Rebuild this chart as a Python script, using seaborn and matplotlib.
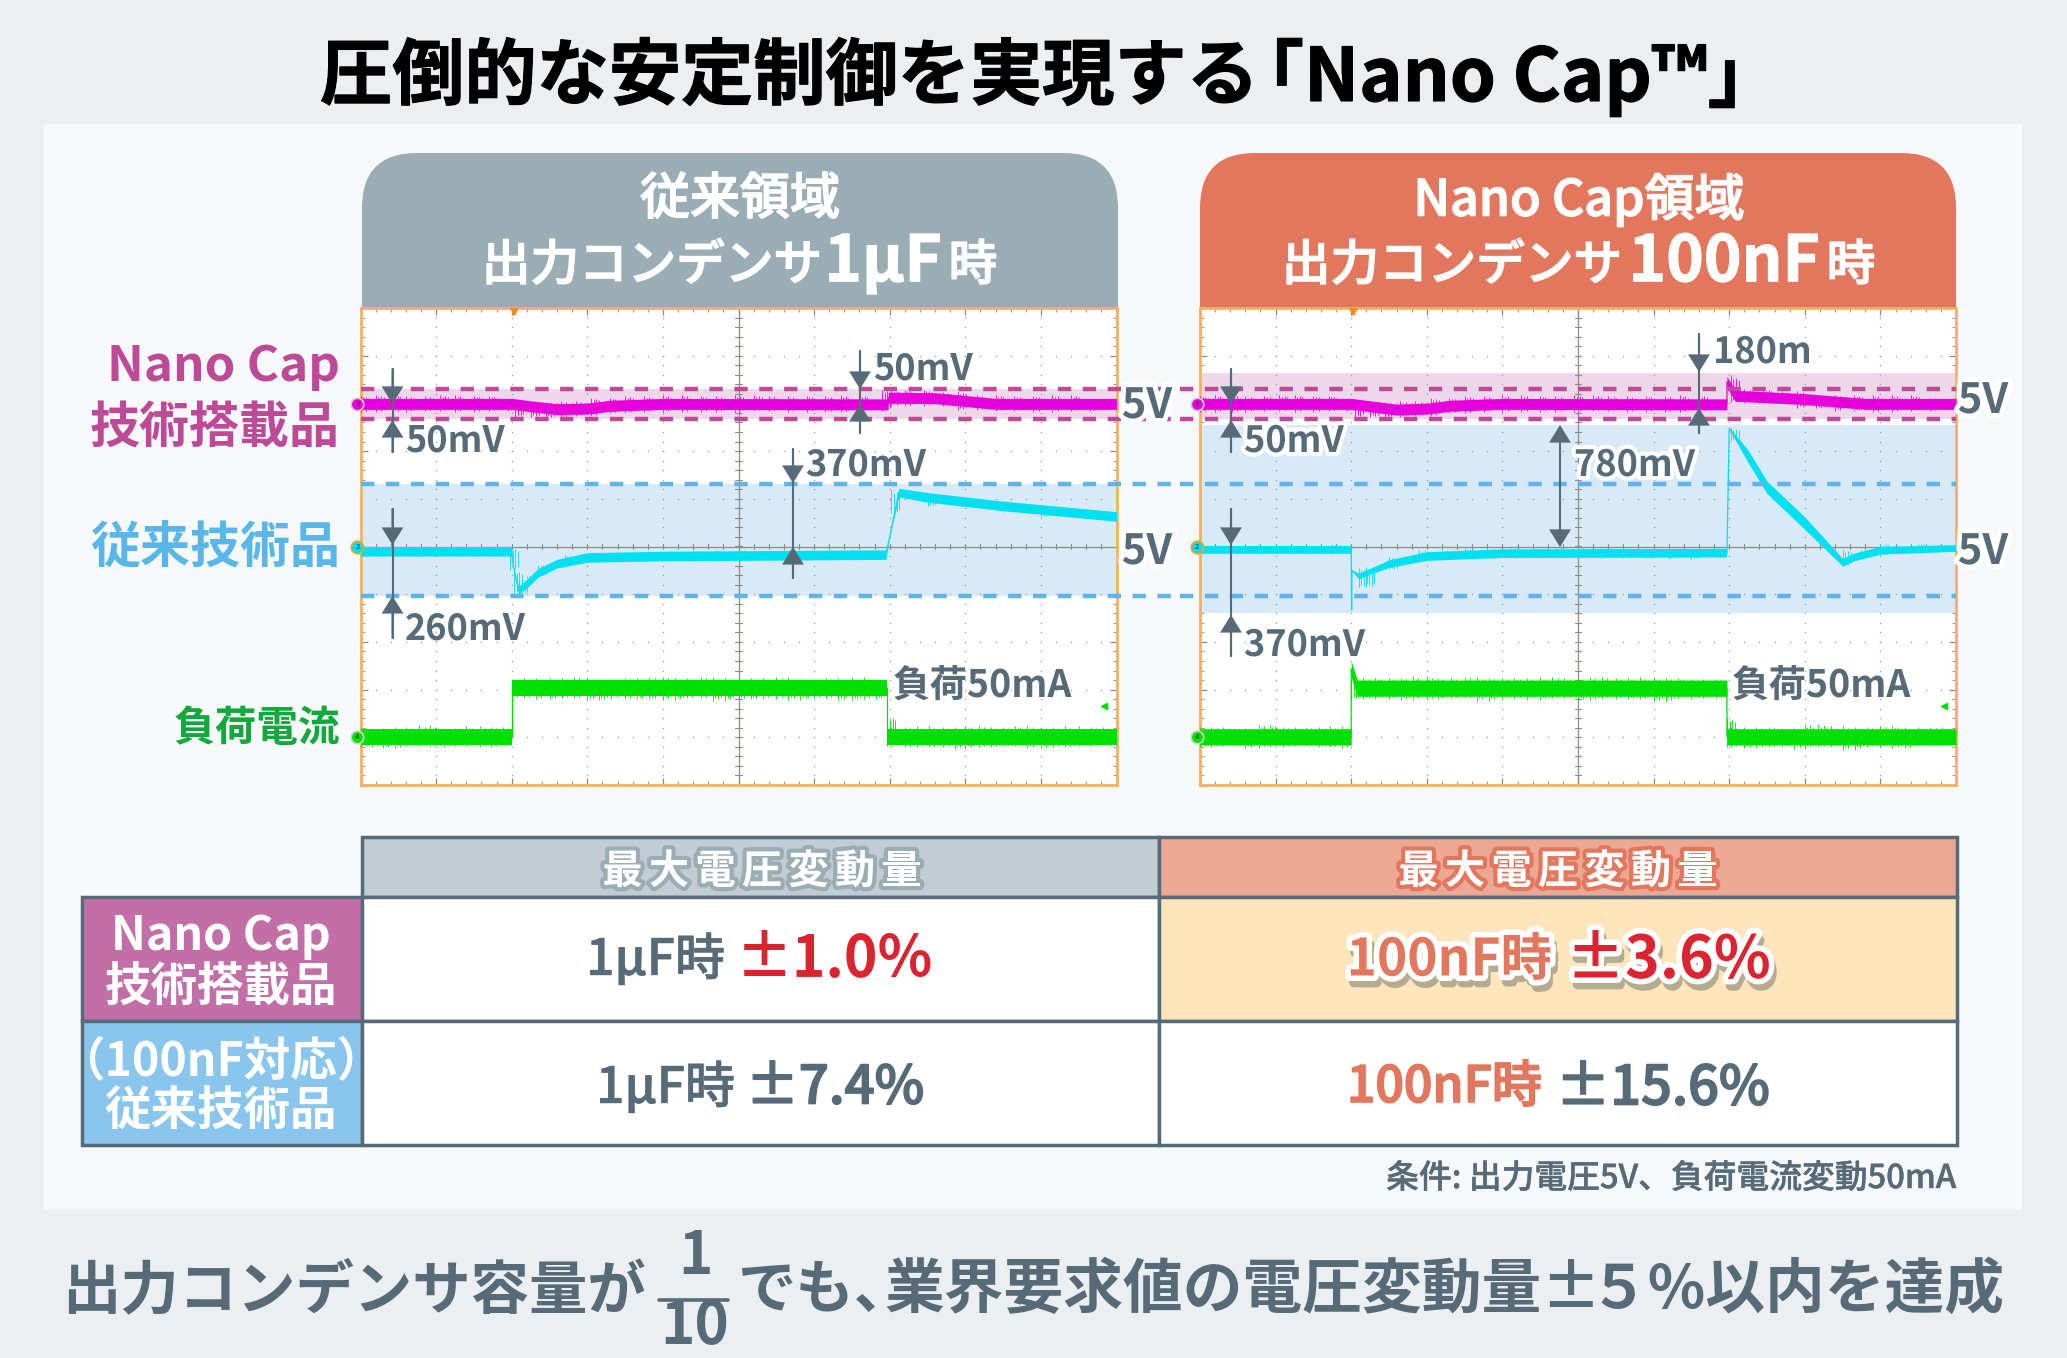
"""
Nano Cap comparison: two oscilloscope captures and a table of maximum voltage change.
"""

import numpy as np
import matplotlib.pyplot as plt
import matplotlib.patheffects as pe
from matplotlib.patches import Rectangle, FancyBboxPatch, FancyArrowPatch
import seaborn as sns

sns.set_theme(style="white")
plt.rcParams["font.family"] = ["Noto Sans CJK JP", "DejaVu Sans"]
plt.rcParams["axes.unicode_minus"] = False

W, H = 2067, 1358

SLATE = "#566B77"
ORANGE = "#E2775D"
RED = "#DC2430"
MAGENTA = "#E800DC"
CYAN = "#00E0F0"
GREEN = "#00E000"
MAG_DASH = "#BC4A96"
BLUE_DASH = "#5FB3E8"

# Traces are in scope divisions: x 0..10, y -5..5
# Limit lines and shaded regions
MAG_LIMITS = [3.30, 2.68]
BLUE_LIMITS = [1.31, -1.035]
MAG_SHADE_L = [3.30, 2.68]
BLUE_SHADE_L = [1.31, -1.035]
MAG_SHADE_R = [3.64, 2.68]
BLUE_SHADE_R = [2.55, -1.40]

# Magenta: output voltage of the Nano Cap part
MAG_L_T = [0, 2.0, 2.3, 2.6, 3.0, 3.3, 4.0, 6.98, 6.98, 7.6, 8.0, 8.4, 10]
MAG_L_MID = [2.99, 2.99, 2.93, 2.88, 2.89, 2.95, 2.99, 2.98, 3.12, 3.11, 3.05, 2.99, 2.99]
MAG_R_T = [0, 2.0, 2.3, 2.6, 3.0, 3.3, 4.0, 6.97, 6.97, 7.08, 8.0, 8.8, 10]
MAG_R_MID = [2.99, 2.99, 2.93, 2.87, 2.89, 2.95, 2.99, 2.98, 3.45, 3.16, 3.09, 2.99, 2.99]
MAG_ZIG_T = [0.0, 0.2, 0.42, 0.6, 0.85, 1.05, 1.25, 1.5, 1.7, 1.95,
             2.05, 2.25, 2.45, 2.65, 2.85, 3.05, 3.3, 3.5, 3.75, 4.0,
             4.25, 4.5, 4.7, 4.95, 5.2, 5.4, 5.65, 5.9, 6.15, 6.35,
             6.6, 6.9, 7.02, 7.2, 7.45, 7.7, 7.9, 8.15, 8.4, 8.65,
             8.9, 9.15, 9.4, 9.65, 10.0]
MAG_L_ZIG = [3.16, 2.83, 3.18, 2.82, 3.15, 2.84, 3.17, 2.83, 3.16, 2.84,
             3.10, 2.72, 3.02, 2.70, 3.04, 2.74, 3.12, 2.80, 3.16, 2.82,
             3.17, 2.83, 3.16, 2.82, 3.18, 2.84, 3.15, 2.83, 3.16, 2.82,
             3.17, 2.85, 3.28, 2.95, 3.29, 2.94, 3.24, 2.86, 3.17, 2.84,
             3.16, 2.83, 3.17, 2.84, 3.10]
MAG_R_ZIG = [3.16, 2.83, 3.17, 2.82, 3.16, 2.84, 3.18, 2.83, 3.16, 2.84,
             3.10, 2.72, 3.02, 2.71, 3.04, 2.74, 3.12, 2.80, 3.16, 2.82,
             3.17, 2.83, 3.16, 2.82, 3.18, 2.84, 3.15, 2.83, 3.16, 2.82,
             3.17, 2.85, 3.57, 3.02, 3.30, 3.00, 3.25, 2.90, 3.18, 2.85,
             3.17, 2.83, 3.17, 2.84, 3.12]

# Cyan: output voltage of the conventional part
CYAN_L_T = [0, 2.0, 2.02, 2.09, 2.2, 2.35, 2.6, 3.0, 4.0, 6.95, 7.0, 7.12, 7.5, 8.5, 10]
CYAN_L_MID = [-0.10, -0.10, -0.40, -0.92, -0.78, -0.55, -0.36, -0.23, -0.20, -0.17, 0.20, 1.13, 1.03, 0.85, 0.63]
CYAN_L_HW = [0.10, 0.10, 0.01, 0.08, 0.09, 0.09, 0.09, 0.10, 0.10, 0.10, 0.01, 0.09, 0.10, 0.10, 0.10]
CYAN_R_T = [0, 2.0, 2.005, 2.01, 2.1, 2.25, 2.5, 3.0, 4.0, 6.96, 6.97, 7.0, 7.25, 7.5, 8.0, 8.5, 8.65, 9.0, 10]
CYAN_R_MID = [-0.06, -0.06, -1.33, -0.50, -0.62, -0.52, -0.36, -0.20, -0.14, -0.13, -0.13, 2.48, 1.89, 1.24, 0.49, -0.33, -0.22, -0.08, -0.03]
CYAN_R_HW = [0.08, 0.08, 0.01, 0.01, 0.06, 0.06, 0.08, 0.09, 0.09, 0.09, 0.01, 0.02, 0.13, 0.13, 0.13, 0.08, 0.08, 0.08, 0.07]
CYAN_ZIG_T = [0, 0.25, 0.5, 0.75, 1.0, 1.25, 1.5, 1.75, 1.98, 2.03,
              2.1, 2.2, 2.35, 2.5, 2.7, 2.9, 3.2, 3.5, 3.8, 4.1,
              4.4, 4.7, 5.0, 5.3, 5.6, 5.9, 6.2, 6.5, 6.8, 6.97,
              7.02, 7.12, 7.5, 8.0, 8.5, 8.75, 9.0, 9.5, 10.0]
CYAN_L_ZIG = [-0.01, -0.19, 0.0, -0.20, -0.02, -0.18, 0.0, -0.19, -0.02, -0.50,
              -1.00, -0.68, -0.62, -0.38, -0.40, -0.18, -0.30, -0.11, -0.29, -0.10,
              -0.28, -0.08, -0.28, -0.07, -0.27, -0.07, -0.28, -0.06, -0.27, -0.10,
              0.70, 1.18, 1.11, 0.85, 0.95, 0.72, 0.86, 0.62, 0.66]
CYAN_R_ZIG = [0.02, -0.14, 0.03, -0.15, 0.03, -0.13, 0.02, -0.15, 0.05, -1.33,
              -0.45, -0.85, -0.42, -0.48, -0.22, -0.30, -0.07, -0.26, -0.03, -0.25,
              -0.02, -0.23, 0.0, -0.24, -0.02, -0.25, -0.03, -0.26, -0.03, -0.05,
              2.48, 2.22, 1.24, 0.49, -0.40, -0.07, -0.17, 0.06, -0.06]

# Green: load current step
GREEN_L_T = [0, 2.0, 2.0, 6.97, 6.97, 10]
GREEN_L_MID = [-3.99, -3.99, -2.97, -2.97, -3.99, -3.99]
GREEN_R_T = [0, 2.0, 2.0, 2.08, 6.97, 6.97, 10]
GREEN_R_MID = [-3.99, -3.99, -2.57, -2.97, -2.97, -3.99, -3.99]
GREEN_ZIG_T = [0, 0.15, 0.3, 0.45, 0.6, 0.78, 0.92, 1.1, 1.25, 1.4, 1.58, 1.72, 1.88, 2.0,
               2.0, 2.16, 2.32, 2.5, 2.66, 2.82, 3.0, 3.15, 3.32, 3.5,
               3.66, 3.82, 4.0, 4.16, 4.32, 4.5, 4.66, 4.82, 5.0, 5.16,
               5.32, 5.5, 5.66, 5.82, 6.0, 6.16, 6.32, 6.5, 6.66, 6.82, 6.97,
               6.97, 7.02, 7.2, 7.36, 7.52, 7.7, 7.86, 8.0, 8.18, 8.34,
               8.5, 8.66, 8.82, 9.0, 9.16, 9.32, 9.5, 9.66, 9.82, 10.0]
GREEN_L_ZIG = [-3.78, -4.20, -3.80, -4.22, -3.79, -4.19, -3.75, -4.21, -3.80, -4.18, -3.77, -4.20, -3.79, -4.15,
               -2.78, -3.17, -2.75, -3.20, -2.76, -3.18, -2.74, -3.22, -2.77, -3.19,
               -2.75, -3.20, -2.73, -3.21, -2.76, -3.18, -2.74, -3.23, -2.75, -3.20,
               -2.76, -3.19, -2.74, -3.21, -2.77, -3.18, -2.75, -3.22, -2.74, -3.20, -2.80,
               -3.55, -4.18, -3.78, -4.21, -3.77, -4.20, -3.79, -4.24, -3.76, -4.20,
               -3.78, -4.19, -3.76, -4.23, -3.78, -4.20, -3.77, -4.19, -3.79, -4.15]
GREEN_R_ZIG = [-3.79, -4.21, -3.78, -4.19, -3.80, -4.22, -3.74, -4.20, -3.79, -4.19, -3.78, -4.21, -3.77, -4.22,
               -2.80, -3.20, -2.76, -3.19, -2.75, -3.21, -2.72, -3.20, -2.76, -3.18,
               -2.74, -3.23, -2.75, -3.19, -2.76, -3.21, -2.74, -3.18, -2.75, -3.22,
               -2.73, -3.19, -2.76, -3.20, -2.74, -3.24, -2.75, -3.19, -2.77, -3.18, -2.78,
               -3.60, -4.20, -3.79, -4.22, -3.78, -4.20, -3.80, -4.24, -3.72, -4.21,
               -3.77, -4.26, -3.78, -4.20, -3.76, -4.23, -3.79, -4.19, -3.78, -4.18]

# Table contents
COL_HEADER = "最大電圧変動量"
ROW_LABELS = [("Nano Cap", "技術搭載品"), ("（100nF対応）", "従来技術品")]
CAP_LABELS = ["1μF時", "100nF時"]
RESULTS = [["±1.0%", "±3.6%"], ["±7.4%", "±15.6%"]]


def label(ax, x, y, s, size, color=SLATE, weight="bold", ha="center", stroke=None, sw=6, thick=0):
    # only Regular and Bold exist, so "medium" is Regular with a hairline of its own colour
    txt = ax.text(x, y - 2.5, s, fontsize=size, color=color, fontweight=weight, ha=ha, va="center_baseline")
    effects = []
    if stroke:
        effects.append(pe.withStroke(linewidth=sw, foreground=stroke))
    if weight == "medium" and not thick:
        thick = 0.7
    if thick:
        effects.append(pe.withStroke(linewidth=thick, foreground=color))
    if effects:
        txt.set_path_effects(effects)
    return txt


def px_axes(x0, y0, x1, y1, zorder):
    ax = fig.add_axes([x0 / W, 1 - y1 / H, (x1 - x0) / W, (y1 - y0) / H], zorder=zorder)
    return ax


def draw_trace(ax, t, mid, hw, zig_t, zig_y, color):
    t = np.asarray(t, dtype=float)
    mid = np.asarray(mid, dtype=float)
    ax.fill_between(t, mid - hw, mid + hw, color=color, lw=0, zorder=4)
    sns.lineplot(x=t, y=mid, color=color, lw=0.9, estimator=None, sort=False, ax=ax, zorder=4)
    # noise hairs between neighbouring read-off extremes
    zt = np.asarray(zig_t, dtype=float)
    zy = np.asarray(zig_y, dtype=float)
    keep = np.abs(zy[1:] - zy[:-1]) < 0.7
    centre = (zy[:-1] + zy[1:]) / 2
    half = (zy[1:] - zy[:-1]) / 2
    for shift, scale in [(0, 1.0), (0.035, 0.78), (0.07, 0.88), (0.105, 0.72)]:
        ax.vlines(zt[:-1][keep] + shift, (centre - half * scale)[keep], (centre + half * scale)[keep],
                  color=color, lw=0.6, zorder=4)


def draw_scope(ax, traces, mag_shade, blue_shade, dash_x):
    ax.set_facecolor("white")
    ax.axhspan(mag_shade[1], mag_shade[0], color="#ECD8E8", lw=0, zorder=1)
    ax.axhspan(blue_shade[1], blue_shade[0], color="#D8E9F7", lw=0, zorder=1)

    # graticule
    gx, gy = np.meshgrid(np.arange(0, 10.1, 1), np.arange(-5, 5.1, 0.2))
    ax.scatter(gx.ravel(), gy.ravel(), s=1.2, color="#A5A5A0", lw=0, zorder=2)
    gx, gy = np.meshgrid(np.arange(0, 10.1, 0.2), np.arange(-5, 5.1, 1))
    ax.scatter(gx.ravel(), gy.ravel(), s=1.2, color="#A5A5A0", lw=0, zorder=2)
    ax.axvline(5, color="#8C8C80", lw=0.9, zorder=2)
    ax.axhline(0, color="#8C8C80", lw=0.9, zorder=2)
    for tick in np.arange(0, 10.1, 0.2):
        ax.plot([tick, tick], [-0.06, 0.06], color="#8C8C80", lw=0.8, zorder=2)
    for tick in np.arange(-5, 5.1, 0.2):
        ax.plot([4.96, 5.04], [tick, tick], color="#8C8C80", lw=0.8, zorder=2)

    for t, mid, hw, zt, zy, col in traces:
        draw_trace(ax, t, mid, hw, zt, zy, col)

    for y, col in zip(MAG_LIMITS + BLUE_LIMITS, [MAG_DASH] * 2 + [BLUE_DASH] * 2):
        ax.plot(dash_x, [y, y], color=col, lw=3.2, dashes=(3.0, 2.6), clip_on=False, zorder=5)

    # trigger and channel markers
    ax.plot([2.03], [4.93], marker="v", ms=6, color="#F58A1F", lw=0, zorder=6)
    ax.plot([9.84], [-3.34], marker="<", ms=4, color=GREEN, lw=0, zorder=6)
    for y, col, edge, num in [(2.99, MAGENTA, "#D0D0D0", "3"), (0, CYAN, "#F2A51F", "2"), (-3.99, GREEN, "#D0D0D0", "4")]:
        ax.plot([-0.04], [y], marker="o", ms=9, mfc=col, mec=edge, mew=1.2, lw=0, clip_on=False, zorder=7)
        ax.text(-0.04, y, num, fontsize=5.5, color="#333333", ha="center", va="center", zorder=8)

    ax.set_xlim(0, 10)
    ax.set_ylim(-5, 5)
    ax.set_xlabel("")
    ax.set_ylabel("")
    ax.set_xticks(np.arange(0, 10.1, 1))
    ax.set_yticks(np.arange(-5, 5.1, 1))
    ax.set_xticks(np.arange(0, 10.1, 0.2), minor=True)
    ax.set_yticks(np.arange(-5, 5.1, 0.2), minor=True)
    ax.tick_params(which="major", direction="in", length=5, width=0.9, color="#8C8C80",
                   top=True, right=True, bottom=True, left=True,
                   labelbottom=False, labelleft=False)
    ax.tick_params(which="minor", direction="in", length=3, width=0.8, color="#9C9C92",
                   top=True, right=True, bottom=True, left=True)
    for spine in ax.spines.values():
        spine.set_visible(True)
        spine.set_color("#F4B25F")
        spine.set_linewidth(2.0)


def arrow(ax, x, y0, y1, style="-|>"):
    ax.add_patch(FancyArrowPatch((x, y0), (x, y1), arrowstyle=f"{style},head_length=10.5,head_width=6.5",
                                 mutation_scale=1, shrinkA=0, shrinkB=0, lw=1.5,
                                 color=SLATE, joinstyle="miter"))


fig = plt.figure(figsize=(W / 100, H / 100), dpi=100, facecolor="#ECEFF2")

# Background layer: panel, headers, table
bg = fig.add_axes([0, 0, 1, 1], zorder=0)
bg.set_xlim(0, W)
bg.set_ylim(H, 0)
bg.axis("off")
bg.add_patch(Rectangle((44, 124), 1978, 1086, color="#F6F8FA", lw=0))

for x0, x1, col in [(362, 1118, "#9AADB4"), (1200, 1956, ORANGE)]:
    head = FancyBboxPatch((x0 + 55, 153 + 55), x1 - x0 - 110, 260, boxstyle="round,pad=55,rounding_size=55",
                          color=col, lw=0)
    bg.add_patch(head)
    head.set_clip_path(Rectangle((x0, 153), x1 - x0, 156, transform=bg.transData))

# Table cells
cells = [(361.5, 837, 797, 60, "#C1CDD2"), (1158.5, 837, 798, 60, "#EBA893"),
         (81.5, 897, 280, 124, "#C26FA8"), (81.5, 1021, 280, 124, "#89C5EC"),
         (361.5, 897, 797, 124, "white"), (1158.5, 897, 798, 124, "#FEE5BC"),
         (361.5, 1021, 797, 124, "white"), (1158.5, 1021, 798, 124, "white")]
for x, y, w, h, col in cells:
    bg.add_patch(Rectangle((x, y), w, h, facecolor=col, edgecolor=SLATE, lw=2.5))

# Scope captures
left = px_axes(360.5, 308, 1116.5, 785, 1)
draw_scope(left, [(MAG_L_T, MAG_L_MID, 0.115, MAG_ZIG_T, MAG_L_ZIG, MAGENTA),
                  (CYAN_L_T, CYAN_L_MID, np.array(CYAN_L_HW), CYAN_ZIG_T, CYAN_L_ZIG, CYAN),
                  (GREEN_L_T, GREEN_L_MID, 0.17, GREEN_ZIG_T, GREEN_L_ZIG, GREEN)],
           MAG_SHADE_L, BLUE_SHADE_L, [0, 10.75])
right = px_axes(1200, 308, 1956, 785, 2)
draw_scope(right, [(MAG_R_T, MAG_R_MID, 0.115, MAG_ZIG_T, MAG_R_ZIG, MAGENTA),
                   (CYAN_R_T, CYAN_R_MID, np.array(CYAN_R_HW), CYAN_ZIG_T, CYAN_R_ZIG, CYAN),
                   (GREEN_R_T, GREEN_R_MID, 0.17, GREEN_ZIG_T, GREEN_R_ZIG, GREEN)],
           MAG_SHADE_R, BLUE_SHADE_R, [-0.27, 10])

# Top layer: every label and arrow, in figure pixels
top = fig.add_axes([0, 0, 1, 1], zorder=3)
top.set_xlim(0, W)
top.set_ylim(H, 0)
top.axis("off")
top.patch.set_alpha(0)

label(top, 320, 72, "圧倒的な安定制御を実現する", 52, color="black", ha="left", thick=0.8)
label(top, 1506, 72, "「Nano Cap™」", 53, color="black", thick=0.8)

# Headers
label(top, 740, 197, "従来領域", 36, color="white", weight="medium", thick=1.0)
label(top, 652, 263, "出力コンデンサ", 35, color="white", weight="medium", thick=1.0)
label(top, 883, 258, "1μF", 46, color="white", thick=0.8)
label(top, 973, 263, "時", 35, color="white", weight="medium", thick=1.0)
label(top, 1579, 197, "Nano Cap領域", 36, color="white", weight="medium", thick=1.0)
label(top, 1452, 263, "出力コンデンサ", 35, color="white", weight="medium", thick=1.0)
label(top, 1724, 258, "100nF", 46, color="white", thick=0.8)
label(top, 1851, 263, "時", 35, color="white", weight="medium", thick=1.0)

# Row names
label(top, 340, 364, "Nano Cap", 35.5, color="#BC4A96", ha="right")
label(top, 340, 425, "技術搭載品", 36, color="#BC4A96", ha="right")
label(top, 340, 546, "従来技術品", 36, color="#58B7E8", ha="right")
label(top, 340, 727, "負荷電流", 30, color="#12A83B", ha="right")

# 5V marks
for x, y in [(1147, 404), (1147, 550), (1983, 399), (1983, 550)]:
    label(top, x, y, "5V", 30, stroke="white", sw=7)

# Measurements, left capture
for x, y, s in [(405, 440, "50mV"), (873, 368, "50mV"), (805, 464, "370mV"), (405, 628, "260mV")]:
    label(top, x, y, s, 26, ha="left")
label(top, 893, 684, "負荷50mA", 27, ha="left")
for x, y0, y1 in [(392.5, 369, 452), (860, 351, 433), (793, 449, 578), (392.5, 509, 638)]:
    top.plot([x, x], [y0, y1], color=SLATE, lw=1.5)
for x, y0, y1 in [(392.5, 369, 404), (392.5, 452, 420), (860, 351, 389), (860, 433, 404),
                  (793, 449, 483), (793, 578, 547), (392.5, 509, 545), (392.5, 638, 596)]:
    arrow(top, x, y0, y1)

# Measurements, right capture
for x, y, s in [(1244, 440, "50mV"), (1713, 351, "180m"), (1574, 464, "780mV"), (1244, 644, "370mV")]:
    label(top, x, y, s, 26, ha="left", stroke="white", sw=6)
label(top, 1732, 684, "負荷50mA", 27, ha="left")
for x, y0, y1 in [(1231, 369, 452), (1699, 334, 433), (1231, 509, 656)]:
    top.plot([x, x], [y0, y1], color=SLATE, lw=1.5)
for x, y0, y1 in [(1231, 369, 404), (1231, 452, 420), (1699, 334, 372), (1699, 433, 408),
                  (1231, 509, 545), (1231, 656, 615)]:
    arrow(top, x, y0, y1)
arrow(top, 1560, 425, 547, style="<|-|>")

# Table text
for cx, edge in [(762, "#9AADB4"), (1558, ORANGE)]:
    for i, ch in enumerate(COL_HEADER):
        label(top, cx + (i - 3) * 46.5, 870, ch, 29, color="white", stroke=edge, sw=6)
label(top, 221, 933, ROW_LABELS[0][0], 33.5, color="white")
label(top, 221, 985, ROW_LABELS[0][1], 33.5, color="white")
label(top, 221, 1059, ROW_LABELS[1][0], 33.5, color="white")
label(top, 221, 1109, ROW_LABELS[1][1], 33.5, color="white")

label(top, 725, 957, CAP_LABELS[0], 36, weight="medium", ha="right", thick=0.4)
label(top, 736, 957, RESULTS[0][0], 41, color=RED, ha="left")
label(top, 735, 1085, CAP_LABELS[0], 36, weight="medium", ha="right", thick=0.4)
label(top, 746, 1085, RESULTS[1][0], 38, weight="medium", ha="left", thick=1.2)

for s, x, ha, col, size in [(CAP_LABELS[1], 1552, "right", ORANGE, 37), (RESULTS[0][1], 1566, "left", RED, 42.5)]:
    label(top, x + 3, 964, s, size, color="#B5AB90", ha=ha, stroke="#B5AB90", sw=7)
    label(top, x, 957, s, size, color=col, ha=ha, stroke="white", sw=8)
label(top, 1542, 1085, CAP_LABELS[1], 36, color=ORANGE, weight="medium", ha="right", thick=1.2)
label(top, 1556, 1085, RESULTS[1][1], 39, weight="medium", ha="left", thick=1.2)

label(top, 1956, 1177, "条件: 出力電圧5V、負荷電流変動50mA", 23.6, weight="medium", ha="right", thick=0.3)

# Bottom line
label(top, 646, 1287, "出力コンデンサ容量が", 42, ha="right")
label(top, 695, 1253, "1", 42)
top.plot([659, 728], [1300, 1300], color=SLATE, lw=2.6)
label(top, 695, 1323, "10", 42)
label(top, 738, 1287, "でも、", 42, ha="left")
label(top, 884, 1287, "業界要求値の電圧変動量±", 43, ha="left")
label(top, 2004, 1287, "５%以内を達成", 43, ha="right")

fig.savefig("out.png", dpi=100, facecolor=fig.get_facecolor())
